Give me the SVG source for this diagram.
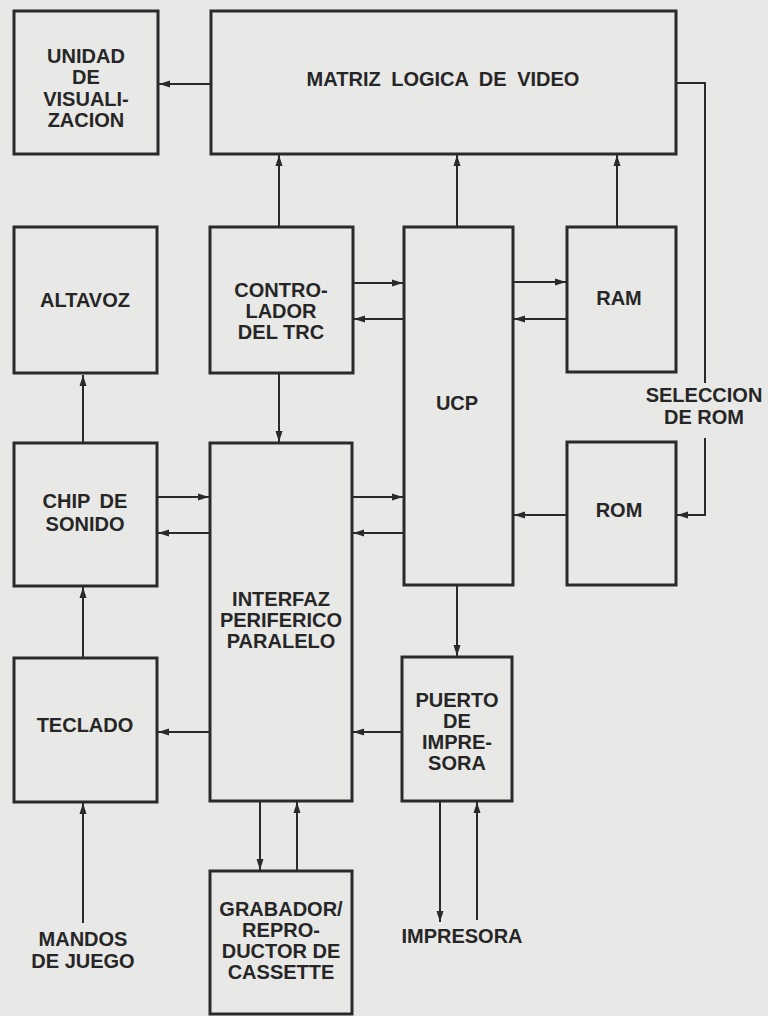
<svg xmlns="http://www.w3.org/2000/svg" width="768" height="1016" viewBox="0 0 768 1016">
<style>
.box{fill:none;stroke:#2a2a2a;stroke-width:3}
.c{fill:none;stroke:#2a2a2a;stroke-width:2}
.a{marker-end:url(#ah)}
text{font-family:"Liberation Sans",Arial,sans-serif;font-weight:bold;font-size:20px;fill:#262626;text-anchor:middle}
</style>
<defs>
<marker id="ah" markerUnits="userSpaceOnUse" markerWidth="12" markerHeight="8" refX="11" refY="4" orient="auto">
<path d="M0,0.5 L11,4 L0,7.5 z" fill="#2a2a2a"/>
</marker>
</defs>
<rect x="0" y="0" width="768" height="1016" fill="#e8e8e6"/>

<g id="unidad">
<rect class="box" x="14" y="11" width="144" height="143"/>
<text x="86" y="63">UNIDAD</text>
<text x="86" y="84">DE</text>
<text x="86" y="106">VISUALI-</text>
<text x="86" y="127">ZACION</text>
</g>
<g id="matriz">
<rect class="box" x="211" y="11" width="465" height="143"/>
<text x="443" y="86" word-spacing="5">MATRIZ LOGICA DE VIDEO</text>
</g>
<g id="altavoz">
<rect class="box" x="14" y="227" width="143" height="146"/>
<text x="85" y="307">ALTAVOZ</text>
</g>
<g id="controlador">
<rect class="box" x="210" y="227" width="143" height="146"/>
<text x="281" y="297">CONTRO-</text>
<text x="281" y="318">LADOR</text>
<text x="281" y="339">DEL TRC</text>
</g>
<g id="ucp">
<rect class="box" x="404" y="227" width="109" height="358"/>
<text x="457" y="410">UCP</text>
</g>
<g id="ram">
<rect class="box" x="567" y="227" width="109" height="145"/>
<text x="619" y="305">RAM</text>
</g>
<g id="rom">
<rect class="box" x="567" y="442" width="109" height="143"/>
<text x="619" y="517">ROM</text>
</g>
<g id="chip">
<rect class="box" x="14" y="443" width="143" height="143"/>
<text x="85" y="508" word-spacing="4">CHIP DE</text>
<text x="85" y="531">SONIDO</text>
</g>
<g id="interfaz">
<rect class="box" x="210" y="443" width="142" height="358"/>
<text x="281" y="606">INTERFAZ</text>
<text x="281" y="627">PERIFERICO</text>
<text x="281" y="648">PARALELO</text>
</g>
<g id="teclado">
<rect class="box" x="14" y="658" width="143" height="144"/>
<text x="85" y="732">TECLADO</text>
</g>
<g id="puerto">
<rect class="box" x="402" y="657" width="110" height="144"/>
<text x="457" y="707">PUERTO</text>
<text x="457" y="728">DE</text>
<text x="457" y="749">IMPRE-</text>
<text x="457" y="770">SORA</text>
</g>
<g id="grabador">
<rect class="box" x="210" y="871" width="142" height="143"/>
<text x="281" y="916">GRABADOR/</text>
<text x="281" y="937">REPRO-</text>
<text x="281" y="958">DUCTOR DE</text>
<text x="281" y="979">CASSETTE</text>
</g>
<g id="mandos">
<text x="83" y="946">MANDOS</text>
<text x="83" y="968">DE JUEGO</text>
</g>
<g id="impresora">
<text x="462" y="943">IMPRESORA</text>
</g>
<g id="seleccion-label">
<text x="704" y="402" font-size="18">SELECCION</text>
<text x="704" y="424" font-size="18">DE ROM</text>
</g>

<g id="connectors">
<line class="c a" x1="211" y1="84" x2="159" y2="84"/>
<line class="c a" x1="279" y1="227" x2="279" y2="155"/>
<line class="c a" x1="457" y1="227" x2="457" y2="155"/>
<line class="c a" x1="617" y1="227" x2="617" y2="155"/>
<line class="c a" x1="353" y1="283" x2="403" y2="283"/>
<line class="c a" x1="404" y1="319" x2="354" y2="319"/>
<line class="c a" x1="513" y1="282" x2="566" y2="282"/>
<line class="c a" x1="567" y1="319" x2="514" y2="319"/>
<line class="c a" x1="83" y1="443" x2="83" y2="375"/>
<line class="c a" x1="279" y1="373" x2="279" y2="442"/>
<line class="c a" x1="157" y1="497" x2="209" y2="497"/>
<line class="c a" x1="210" y1="533" x2="158" y2="533"/>
<line class="c a" x1="352" y1="497" x2="403" y2="497"/>
<line class="c a" x1="404" y1="533" x2="353" y2="533"/>
<line class="c a" x1="567" y1="515" x2="514" y2="515"/>
<polyline class="c" points="676,83 705,83 705,383"/>
<polyline class="c a" points="705,438 705,515 677,515"/>
<line class="c a" x1="83" y1="658" x2="83" y2="587"/>
<line class="c a" x1="210" y1="732" x2="158" y2="732"/>
<line class="c a" x1="402" y1="732" x2="353" y2="732"/>
<line class="c a" x1="457" y1="585" x2="457" y2="656"/>
<line class="c a" x1="83" y1="923" x2="83" y2="803"/>
<line class="c a" x1="260" y1="801" x2="260" y2="870"/>
<line class="c a" x1="297" y1="871" x2="297" y2="802"/>
<line class="c a" x1="440" y1="801" x2="440" y2="922"/>
<line class="c a" x1="477" y1="920" x2="477" y2="802"/>
</g>
</svg>
